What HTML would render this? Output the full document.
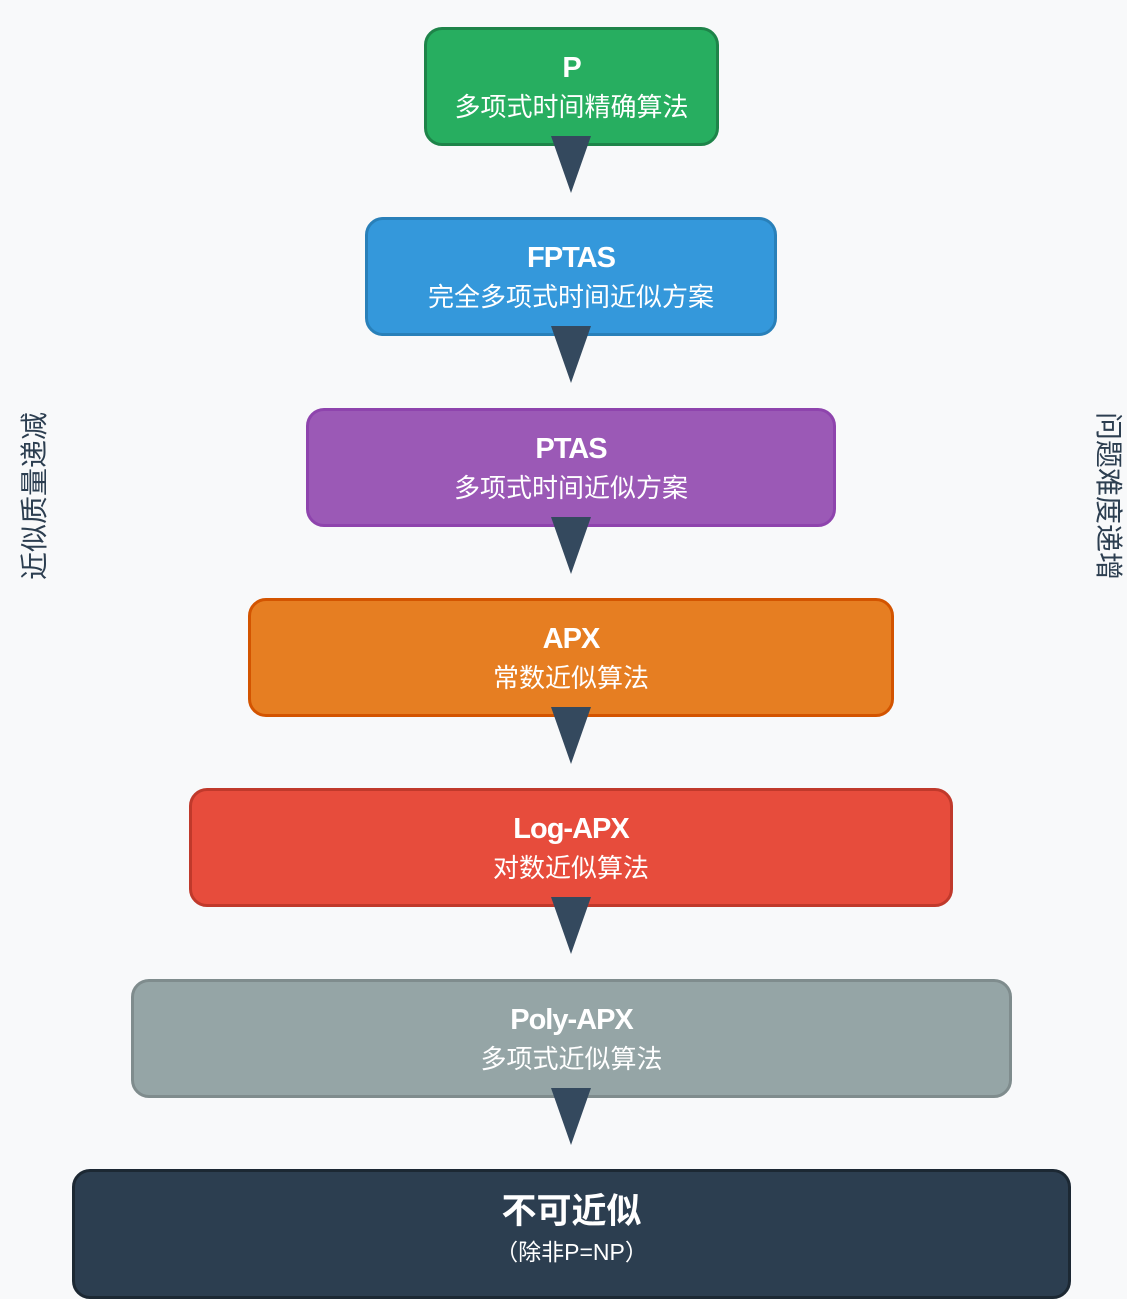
<!DOCTYPE html>
<html><head><meta charset="utf-8"><style>
body{margin:0;width:1127px;height:1287px;background:#f8f9fa;position:relative;overflow:hidden;font-family:"Liberation Sans","Noto Sans CJK SC",sans-serif}
.b{position:absolute;box-sizing:border-box;border:3px solid;border-radius:18px;color:#fff;text-align:center}
.t{position:absolute;left:0;right:0;top:20px;font-size:29px;font-weight:bold;line-height:36px;letter-spacing:-1px}
.s{position:absolute;left:0;right:0;top:61px;font-size:26px;line-height:32px}
.v{position:absolute;font-size:28px;color:#2c3e50;white-space:nowrap;line-height:30px}
</style></head><body>
<div class="b" style="left:424px;top:27px;width:295px;height:119px;background:#27ae60;border-color:#1e8449"><div class="t">P</div><div class="s">多项式时间精确算法</div></div>
<div class="b" style="left:365px;top:217px;width:412px;height:119px;background:#3498db;border-color:#2980b9"><div class="t">FPTAS</div><div class="s">完全多项式时间近似方案</div></div>
<div class="b" style="left:306px;top:408px;width:530px;height:119px;background:#9b59b6;border-color:#8e44ad"><div class="t">PTAS</div><div class="s">多项式时间近似方案</div></div>
<div class="b" style="left:248px;top:598px;width:646px;height:119px;background:#e67e22;border-color:#d35400"><div class="t">APX</div><div class="s">常数近似算法</div></div>
<div class="b" style="left:189px;top:788px;width:764px;height:119px;background:#e74c3c;border-color:#c0392b"><div class="t">Log-APX</div><div class="s">对数近似算法</div></div>
<div class="b" style="left:131px;top:979px;width:881px;height:119px;background:#95a5a6;border-color:#7f8c8d"><div class="t">Poly-APX</div><div class="s">多项式近似算法</div></div>
<div class="b" style="left:72px;top:1169px;width:999px;height:130px;background:#2c3e50;border-color:#1c2833"><div class="t" style="font-size:35px;top:22px;letter-spacing:0">不可近似</div><div class="s" style="top:64px;font-size:23px">（除非P=NP）</div></div>
<svg style="position:absolute;left:0;top:0" width="1127" height="1287">
<g fill="#34495e">
<polygon points="551,136 591,136 571,193"/>
<polygon points="551,326 591,326 571,383"/>
<polygon points="551,517 591,517 571,574"/>
<polygon points="551,707 591,707 571,764"/>
<polygon points="551,897 591,897 571,954"/>
<polygon points="551,1088 591,1088 571,1145"/>
</g></svg>
<div class="v" style="left:35px;top:496px;transform:translate(-50%,-50%) rotate(-90deg)">近似质量递减</div>
<div class="v" style="left:1108px;top:496px;transform:translate(-50%,-50%) rotate(90deg)">问题难度递增</div>
</body></html>
